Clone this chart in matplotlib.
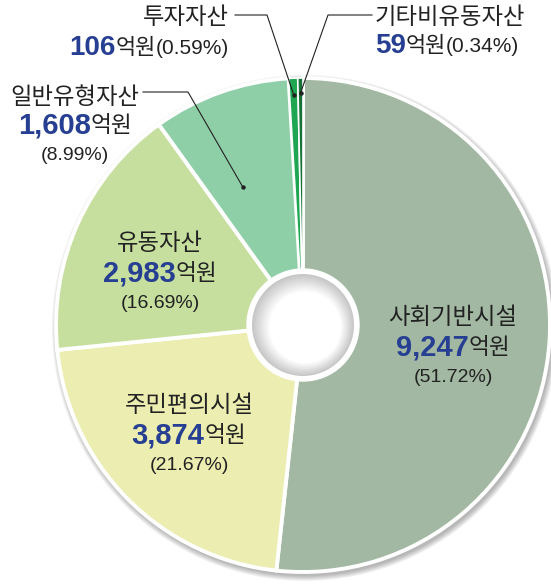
import numpy as np
import matplotlib
matplotlib.use("Agg")
import matplotlib.pyplot as plt
from matplotlib.patches import Circle

plt.rcParams['font.family'] = ['Noto Sans CJK KR', 'DejaVu Sans']

# data
categories = ['사회기반시설', '주민편의시설', '유동자산', '일반유형자산', '투자자산', '기타비유동자산']
amounts = ['9,247', '3,874', '2,983', '1,608', '106', '59']
shares = [51.72, 21.67, 16.69, 8.99, 0.59, 0.34]
colors = ['#a2b8a2', '#ecedb0', '#c6df9f', '#8ecfa8', '#1fa653', '#177238']

W, H = 551, 584
fig = plt.figure(figsize=(W / 100, H / 100), dpi=100)
ax = fig.add_axes([0, 0, 1, 1])

cx, cy, R = 303, 325, 247   # pixel coords from top-left
C = (cx, H - cy)

# shadow under the pie
for i in range(6):
    ax.add_patch(Circle((C[0] + 2, C[1] - 3), R + 1 + i, color='#000000', alpha=0.05, lw=0, zorder=0))

wedges, _ = ax.pie(shares, colors=colors, startangle=90, counterclock=False,
                   center=C, radius=R, frame=True,
                   wedgeprops=dict(edgecolor='white', linewidth=2.8))
for w in wedges[4:]:
    w.set_linewidth(1.2)
ax.set_xlim(0, W)
ax.set_ylim(0, H)
ax.set_aspect('equal')
ax.axis('off')

# centre hole with soft shading
ax.add_patch(Circle(C, 56, color='white', zorder=5))
for r, c in zip(np.linspace(51, 36, 12), np.linspace(0.78, 1.0, 12)):
    ax.add_patch(Circle((C[0] + (51 - r) * 0.15, C[1] - (51 - r) * 0.15), r, color=str(c), lw=0, zorder=6))

fig.canvas.draw()
renderer = fig.canvas.get_renderer()

BLUE = '#263f92'
DARK = '#222222'
KR = ['Noto Sans CJK KR', 'DejaVu Sans']
LAT = ['Liberation Sans', 'DejaVu Sans']


def rich(x, y, parts, align='center'):
    # parts: list of (text, size, weight, color, family)
    objs = []
    for t, s, wgt, col, fam in parts:
        objs.append(ax.text(0, H - y, t, fontsize=s, fontweight=wgt, color=col, family=fam,
                            ha='left', va='center', zorder=10))
    widths = [o.get_window_extent(renderer).width for o in objs]
    total = sum(widths)
    if align == 'center':
        x0 = x - total / 2
    elif align == 'right':
        x0 = x - total
    else:
        x0 = x
    for o, w in zip(objs, widths):
        o.set_x(x0)
        x0 += w


def label(i, x, y, align='center', size=16.8, nsize=21, psize=14, line=30, inline_pct=False):
    rich(x, y, [(categories[i], size, 'normal', DARK, KR)], align)
    pct = '(%.2f%%)' % shares[i]
    if inline_pct:
        rich(x, y + line, [(amounts[i], nsize, 'bold', BLUE, LAT), ('억원', size - 1, 'normal', DARK, KR),
                           (pct, psize + 1, 'normal', DARK, LAT)], align)
    else:
        rich(x, y + line, [(amounts[i], nsize, 'bold', BLUE, LAT), ('억원', size - 0.5, 'normal', DARK, KR)], align)
        rich(x, y + 2 * line, [(pct, psize, 'normal', DARK, LAT)], align)


label(0, 453, 318)
label(1, 189, 405)
label(2, 160, 243, line=30.5)
label(3, 75, 97, line=29)
label(4, 229, 18, align='right', nsize=20, inline_pct=True)
label(5, 375, 18, align='left', nsize=20, inline_pct=True, line=28)

# leader lines to wedge mid angles
cum = np.cumsum([0] + shares[:-1])
mids = [(c + s / 2) / 100 * 2 * np.pi for c, s in zip(cum, shares)]


def leader(i, r, pts, da=0.0):
    a = mids[i] + da
    ex, ey = cx + r * np.sin(a), cy - r * np.cos(a)
    xs = [p[0] for p in pts] + [ex]
    ys = [H - p[1] for p in pts] + [H - ey]
    ax.plot(xs, ys, color=DARK, lw=0.8, zorder=8)
    ax.plot(ex, H - ey, 'o', color=DARK, ms=2.2, zorder=8)


leader(3, 150, [(143, 92), (188, 92)], da=-0.07)
leader(4, 230, [(235, 15), (267, 15)])
leader(5, 232, [(372, 15), (328, 15)])

fig.savefig('out.png', dpi=100)
